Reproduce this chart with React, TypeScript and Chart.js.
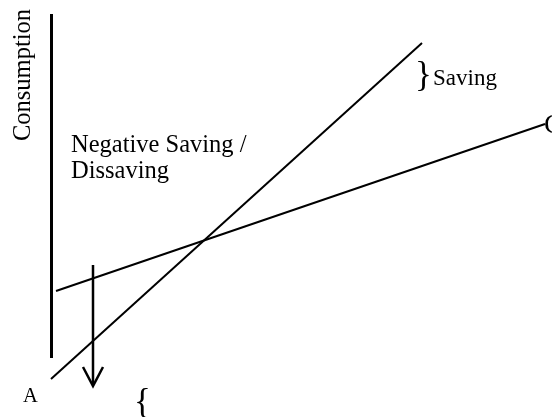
import { useEffect, useRef } from "react";
import { Chart, registerables } from "chart.js";

Chart.register(...registerables);

// Diagram geometry (units = diagram grid, y measured downward)
const axisLine = [{ x: 51.5, y: 14 }, { x: 51.5, y: 358 }];
const incomeLine = [{ x: 51, y: 379 }, { x: 422, y: 43 }];
const consumptionLine = [{ x: 56, y: 291 }, { x: 545, y: 124 }];
const arrowShaft = [{ x: 93, y: 265 }, { x: 93, y: 385 }];
const arrowHead = [{ x: 83, y: 367 }, { x: 93, y: 386 }, { x: 103, y: 367 }];

// Text labels
const labelTexts = ["Consumption", "Negative Saving /", "Dissaving", "}", "Saving", "A", "{", "C"];

const FONT = "'Liberation Serif', 'DejaVu Serif', serif";

const labelLayout = [
  { x: 30, y: 75, size: 24.5, rotate: true, align: "center" },
  { x: 71, y: 152, size: 24.5, align: "left" },
  { x: 71, y: 178, size: 24.5, align: "left" },
  { x: 415, y: 86, size: 35, align: "left" },
  { x: 433, y: 85, size: 23, align: "left" },
  { x: 23, y: 402, size: 20.5, align: "left" },
  { x: 134, y: 413, size: 35, align: "left" },
  { x: 544, y: 133, size: 28, align: "left" },
];

const labelPlugin = {
  id: "diagramLabels",
  afterDatasetsDraw(chart: any) {
    const { ctx } = chart;
    ctx.save();
    ctx.fillStyle = "#000";
    labelTexts.forEach((t, i) => {
      const l: any = labelLayout[i];
      ctx.save();
      ctx.font = `${l.size}px ${FONT}`;
      ctx.textAlign = l.align;
      ctx.textBaseline = "alphabetic";
      ctx.translate(l.x, l.y);
      if (l.rotate) ctx.rotate(-Math.PI / 2);
      ctx.fillText(t, 0, 0);
      ctx.restore();
    });
    ctx.restore();
  },
};

export default function App() {
  const ref = useRef<HTMLCanvasElement | null>(null);
  useEffect(() => {
    if (!ref.current) return;
    const ds = (data: any[], width: number) => ({
      data,
      borderColor: "#000",
      borderWidth: width,
      showLine: true,
      pointRadius: 0,
      fill: false,
      tension: 0,
    });
    const chart = new Chart(ref.current, {
      type: "scatter",
      data: {
        datasets: [
          ds(axisLine, 3),
          ds(incomeLine, 2),
          ds(consumptionLine, 2),
          ds(arrowShaft, 2.5),
          ds(arrowHead, 2.5),
        ],
      },
      options: {
        animation: false,
        responsive: false,
        devicePixelRatio: 1,
        layout: { padding: 0 },
        plugins: { legend: { display: false }, tooltip: { enabled: false } },
        scales: {
          x: { type: "linear", min: 0, max: 552, display: false },
          y: { type: "linear", min: 0, max: 417, reverse: true, display: false },
        },
      },
      plugins: [labelPlugin],
    });
    return () => chart.destroy();
  }, []);
  return (
    <div style={{ position: "fixed", left: 0, top: 0, width: 552, height: 417, background: "#fff" }}>
      <canvas ref={ref} width={552} height={417} style={{ display: "block" }} />
    </div>
  );
}
